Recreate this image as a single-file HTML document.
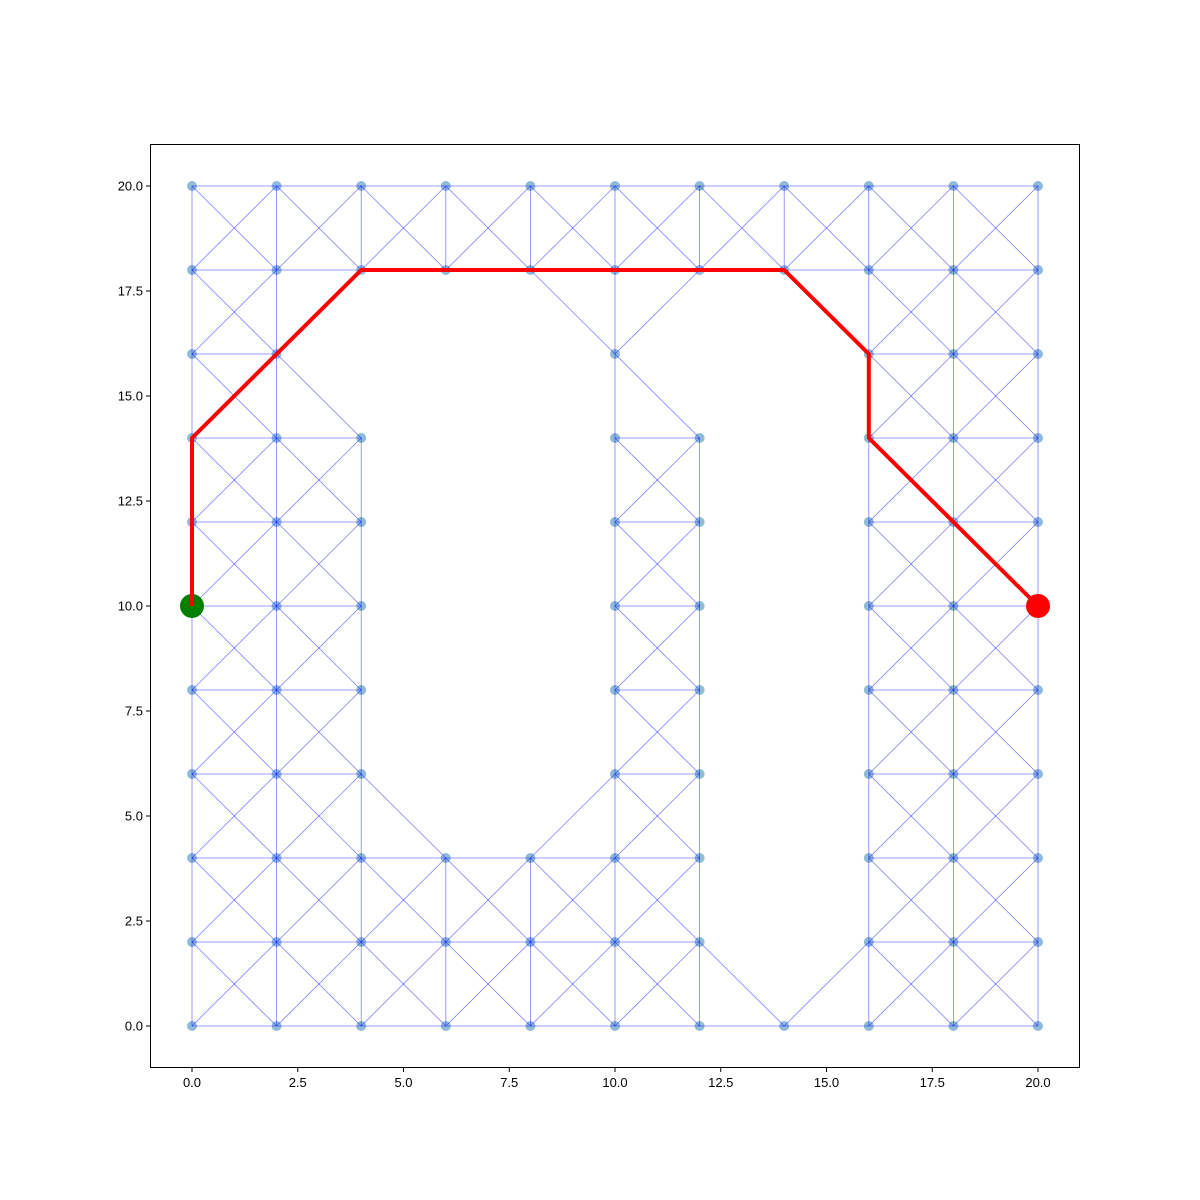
<!DOCTYPE html>
<html><head><meta charset="utf-8"><style>
body{margin:0;background:#fff}
svg{display:block;font-family:"Liberation Sans",sans-serif}
</style></head><body>
<svg id="c" width="1200" height="1200" xmlns="http://www.w3.org/2000/svg">
<rect x="0" y="0" width="1200" height="1200" fill="#fff"/>
<g id="nodesG"></g>
<g id="edgesG"></g>
<g id="pathG"></g>
<rect x="150.5" y="144.5" width="929" height="923" fill="none" stroke="#000" stroke-width="1"/>
<g id="ticksG" font-size="13" fill="#000"></g>
</svg>
<script>
const rows = [20,18,16,14,12,10,8,6,4,2,0];
const rowXs = [
 [0,2,4,6,8,10,12,14,16,18,20],
 [0,2,4,6,8,10,12,14,16,18,20],
 [0,2,10,16,18,20],
 [0,2,4,10,12,16,18,20],
 [0,2,4,10,12,16,18,20],
 [0,2,4,10,12,16,18,20],
 [0,2,4,10,12,16,18,20],
 [0,2,4,10,12,16,18,20],
 [0,2,4,6,8,10,12,16,18,20],
 [0,2,4,6,8,10,12,16,18,20],
 [0,2,4,6,8,10,12,14,16,18,20]
];
const pathX = [0,0,4,14,16,16,20];
const pathY = [10,14,18,18,16,14,10];
const startPt = [0,10];
const goalPt = [20,10];
const xTicks = [0,2.5,5,7.5,10,12.5,15,17.5,20];
const yTicks = [0,2.5,5,7.5,10,12.5,15,17.5,20];

const NS="http://www.w3.org/2000/svg";
const X=v=>192+(v-0)*(1038-192)/20;
const Y=v=>1026-(v-0)*(1026-186)/20;
function mk(t,a,p){const e=document.createElementNS(NS,t);for(const k in a)e.setAttribute(k,a[k]);p.appendChild(e);return e;}
const set=new Set();
rows.forEach((y,i)=>rowXs[i].forEach(x=>set.add(x+","+y)));
const nodesG=document.getElementById('nodesG'),edgesG=document.getElementById('edgesG'),pathG=document.getElementById('pathG'),ticksG=document.getElementById('ticksG');
const offs=[[2,0],[0,2],[2,2],[2,-2]];
rows.forEach((y,i)=>rowXs[i].forEach(x=>{
  offs.forEach(o=>{const nx=x+o[0],ny=y+o[1];
    if(set.has(nx+","+ny)){
      const l=mk('line',{x1:X(x),y1:Y(y),x2:X(nx),y2:Y(ny),stroke:'rgba(0,0,255,0.5)','stroke-width':0.8},edgesG);
      
      
    }});
  const c=mk('circle',{cx:X(x),cy:Y(y),r:5,fill:'rgba(31,119,180,0.5)'},nodesG);
  
  
}));
const s=mk('circle',{cx:X(startPt[0]),cy:Y(startPt[1]),r:12,fill:'#008000'},pathG);


const g=mk('circle',{cx:X(goalPt[0]),cy:Y(goalPt[1]),r:12,fill:'#ff0000'},pathG);


const pl=mk('polyline',{points:pathX.map((x,i)=>X(x)+","+Y(pathY[i])).join(" "),fill:'none',stroke:'#ff0000','stroke-width':4,'stroke-linejoin':'round'},pathG);


xTicks.forEach(v=>{
  mk('line',{x1:X(v),x2:X(v),y1:1068,y2:1072,stroke:'#000'},ticksG);
  const t=mk('text',{x:X(v),y:1087,'text-anchor':'middle'},ticksG);t.textContent=v.toFixed(1);
  
  
});
yTicks.forEach(v=>{
  mk('line',{x1:146,x2:150,y1:Y(v),y2:Y(v),stroke:'#000'},ticksG);
  const t=mk('text',{x:143,y:Y(v)+4.5,'text-anchor':'end'},ticksG);t.textContent=v.toFixed(1);
  
  
});
</script>
</body></html>
